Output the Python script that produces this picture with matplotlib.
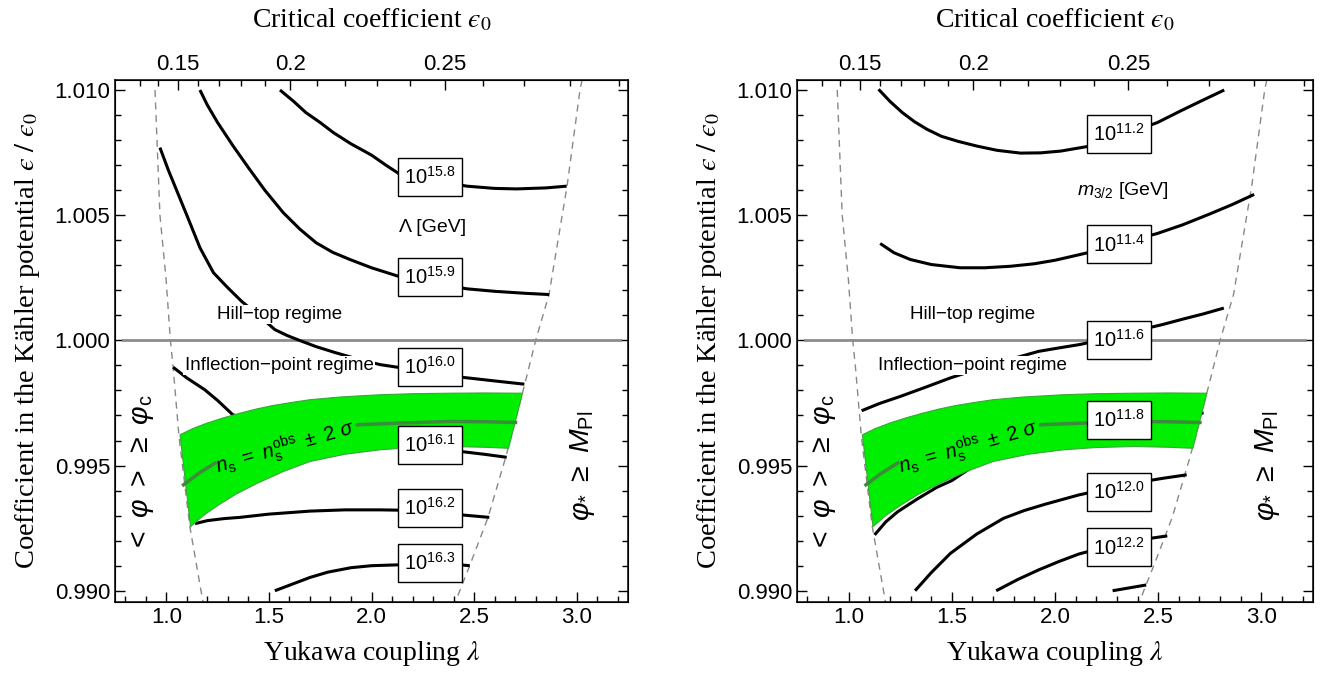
import numpy as np
import matplotlib
matplotlib.use("Agg")
import matplotlib.pyplot as plt
from matplotlib.patches import Rectangle
from matplotlib.transforms import ScaledTranslation

plt.rcParams['font.family'] = ['Liberation Sans', 'DejaVu Sans']
plt.rcParams['mathtext.fontset'] = 'custom'
plt.rcParams['mathtext.rm'] = 'Liberation Sans'
plt.rcParams['mathtext.it'] = 'Liberation Sans:italic'
plt.rcParams['mathtext.sf'] = 'Liberation Sans'

# ---- data (lambda, eps/eps0) ----
# boundaries (dashed)
left_lam = [0.945, 0.969, 0.999, 1.020, 1.033, 1.062, 1.115, 1.169, 1.179]
left_v = [1.0100, 1.0050, 1.00243, 1.0000, 0.99895, 0.99615, 0.99255, 0.9900, 0.98955]
right_lam = [3.026, 3.016, 2.953, 2.865, 2.80, 2.748, 2.655, 2.568, 2.48, 2.43, 2.41]
right_v = [1.0104, 1.0100, 1.00616, 1.00183, 1.0000, 0.99829, 0.99536, 0.99293, 0.99103, 0.9900, 0.98955]

# n_s band
band_top_lam = [1.067, 1.13, 1.20, 1.28, 1.358, 1.44, 1.52, 1.61, 1.70, 1.85, 2.043, 2.20, 2.385, 2.55, 2.736]
band_top_v = [0.99623, 0.99648, 0.99670, 0.99691, 0.99709, 0.99726, 0.99740, 0.99752, 0.99763,
              0.99774, 0.99783, 0.99787, 0.99789, 0.99790, 0.99789]
band_bot_lam = [1.118, 1.18, 1.25, 1.34, 1.443, 1.57, 1.70, 1.87, 2.043, 2.20, 2.385, 2.55, 2.668]
band_bot_v = [0.99256, 0.99300, 0.99340, 0.99386, 0.99429, 0.99476, 0.99516, 0.99545, 0.99563,
              0.99572, 0.99576, 0.99573, 0.99569]
ns_lam1 = [1.084, 1.16, 1.238]
ns_v1 = [0.99423, 0.99470, 0.99510]
ns_lam2 = [1.931, 2.15, 2.385, 2.55, 2.702]
ns_v2 = [0.99663, 0.99670, 0.99676, 0.99675, 0.99672]

# left panel: Lambda contours
lam_L = {
    '15.8': [1.554, 1.62, 1.68, 1.75, 1.814, 1.90, 2.00, 2.07, 2.139, 2.30,
             2.464, 2.60, 2.708, 2.85, 2.951],
    '15.9': [1.164, 1.20, 1.25, 1.326, 1.40, 1.48, 1.570, 1.65, 1.73, 1.81, 1.895, 2.00, 2.139,
             2.30, 2.464, 2.60, 2.75, 2.866],
    '16.0': [0.969, 1.01, 1.05, 1.10, 1.164, 1.23, 1.30, 1.367, 1.45, 1.529, 1.59, 1.649, 1.73,
             1.82, 1.93, 2.043, 2.27, 2.437, 2.60, 2.745],
    '16.1': [1.033, 1.10, 1.187, 1.25, 1.324, 1.55, 1.80, 2.05, 2.27, 2.437, 2.55, 2.659],
    '16.2': [1.14, 1.20, 1.28, 1.358, 1.50, 1.70, 1.87, 2.043, 2.27, 2.437, 2.574],
    '16.3': [1.529, 1.60, 1.70, 1.786, 1.90, 2.00, 2.111, 2.27, 2.437, 2.479],
}
v_L = {
    '15.8': [1.0100, 1.00955, 1.0091, 1.0087, 1.0083, 1.00785, 1.0074, 1.0070, 1.00663, 1.0064,
             1.00616, 1.00607, 1.00605, 1.00609, 1.00616],
    '15.9': [1.0100, 1.0094, 1.0087, 1.00776, 1.0069, 1.0060, 1.0051, 1.00445, 1.0039, 1.00352,
             1.00323, 1.0029, 1.00254, 1.0023, 1.00206, 1.00196, 1.00188, 1.00183],
    '16.0': [1.0077, 1.0068, 1.0060, 1.0050, 1.0037, 1.0027, 1.0021, 1.00156, 1.0010, 1.00043,
             1.00019, 1.0000, 0.99975, 0.99952, 0.99926, 0.99903, 0.99875, 0.99853, 0.99838,
             0.99825],
    '16.1': [0.99893, 0.99850, 0.99803, 0.99760, 0.99703, 0.99650, 0.99610, 0.99590, 0.99583,
             0.99556, 0.99545, 0.99533],
    '16.2': [0.99268, 0.99280, 0.99288, 0.99293, 0.99306, 0.99318, 0.99323, 0.99323, 0.99320,
             0.99303, 0.99293],
    '16.3': [0.9900, 0.99022, 0.99053, 0.99074, 0.99092, 0.99100, 0.99103, 0.99105, 0.99103,
             0.99100],
}
box_v_L = {'15.8': 1.00654, '15.9': 1.00254, '16.0': 0.99893,
           '16.1': 0.99583, '16.2': 0.99332, '16.3': 0.99112}

# right panel: m_3/2 contours
lam_R = {
    '11.2': [1.145, 1.20, 1.26, 1.32, 1.38, 1.45, 1.53, 1.622, 1.72, 1.833, 1.93, 2.027, 2.169,
             2.33, 2.496, 2.60, 2.70, 2.82],
    '11.4': [1.153, 1.22, 1.299, 1.40, 1.54, 1.66, 1.784, 1.90, 2.00, 2.169, 2.33, 2.496, 2.62,
             2.75, 2.86, 2.965],
    '11.6': [1.063, 1.15, 1.25, 1.37, 1.493, 1.70, 1.92, 2.02, 2.117, 2.27, 2.416, 2.52, 2.62,
             2.72, 2.818],
    '11.8': [1.126, 1.18, 1.237, 1.33, 1.425, 1.50, 1.70, 2.00, 2.27, 2.60, 2.72],
    '12.0': [1.322, 1.40, 1.493, 1.62, 1.75, 1.85, 1.95, 2.117, 2.27, 2.425, 2.53, 2.638],
    '12.2': [1.715, 1.82, 1.92, 2.02, 2.117, 2.27, 2.425, 2.544],
    '12.4': [2.279, 2.442],
}
v_R = {
    '11.2': [1.01003, 1.00955, 1.00910, 1.00873, 1.00843, 1.00815, 1.00795, 1.00776, 1.00759,
             1.00748, 1.00749, 1.00756, 1.00776, 1.0082, 1.0087, 1.00913, 1.00953, 1.0100],
    '11.4': [1.00387, 1.00350, 1.00323, 1.00303, 1.00290, 1.00290, 1.00296, 1.00306, 1.00320,
             1.00352, 1.0039, 1.00427, 1.00462, 1.00505, 1.00543, 1.00583],
    '11.6': [0.99719, 0.99748, 0.99776, 0.99812, 0.99850, 0.99905, 0.99956, 0.99970, 0.99983,
             1.0001, 1.00043, 1.00063, 1.00085, 1.00106, 1.00129],
    '11.8': [0.99223, 0.99275, 0.99315, 0.99365, 0.99412, 0.99440, 0.9955, 0.9963, 0.99675,
             0.9970, 0.9971],
    '12.0': [0.9900, 0.99072, 0.99149, 0.99226, 0.99289, 0.99320, 0.99345, 0.99383, 0.9941,
             0.99436, 0.99450, 0.99463],
    '12.2': [0.9900, 0.99045, 0.99083, 0.99117, 0.99147, 0.9918, 0.99205, 0.99219],
    '12.4': [0.9900, 0.99023],
}
box_v_R = {'11.2': 1.00823, '11.4': 1.00383, '11.6': 1.00003,
           '11.8': 0.99681, '12.0': 0.99393, '12.2': 0.99173}

# top axis: epsilon_0 ticks at lambda positions
eps0_ticks = [0.13, 0.14, 0.15, 0.16, 0.17, 0.18, 0.19, 0.20, 0.21, 0.22,
              0.23, 0.24, 0.25, 0.26, 0.27, 0.28, 0.29]
eps0_lam = [0.870, 0.960, 1.055, 1.153, 1.256, 1.366, 1.482, 1.604, 1.733, 1.870,
            2.026, 2.188, 2.356, 2.543, 2.744, 2.966, 3.205]
eps0_major = {0.15: '0.15', 0.20: '0.2', 0.25: '0.25'}

x_ticks = [1.0, 1.5, 2.0, 2.5, 3.0]
y_ticks = [0.990, 0.995, 1.000, 1.005, 1.010]

serif = 'Liberation Serif'


def setup_axes(ax, regime_lam):
    ax.set_xlim(0.75, 3.25)
    ax.set_ylim(0.98955, 1.0104)
    ax.set_xticks(x_ticks)
    ax.set_xticklabels(['%.1f' % t for t in x_ticks])
    ax.set_xticks(np.arange(0.8, 3.25, 0.1), minor=True)
    ax.set_yticks(y_ticks)
    ax.set_yticklabels(['%.3f' % t for t in y_ticks])
    ax.set_yticks(np.arange(0.990, 1.0104, 0.001), minor=True)
    ax.tick_params(which='both', direction='in', top=False, right=True, labelsize=16, width=1)
    ax.tick_params(which='major', length=7)
    ax.tick_params(which='minor', length=4)
    for s in ax.spines.values():
        s.set_linewidth(1.1)
    ax.set_xlabel(r'Yukawa coupling $\lambda$', fontsize=20, family=serif,
                  math_fontfamily='stix', labelpad=8)
    ax.set_ylabel('Coefficient in the Kähler potential $\u03f5\\ /\\ \u03f5_0$',
                  fontsize=20.5, family=serif, math_fontfamily='stix', labelpad=9)

    top = ax.twiny()
    top.set_xlim(ax.get_xlim())
    maj = [eps0_lam[eps0_ticks.index(e)] for e in eps0_major]
    top.set_xticks(maj)
    top.set_xticklabels(list(eps0_major.values()))
    top.set_xticks(eps0_lam, minor=True)
    top.tick_params(which='both', direction='in', labelsize=16, width=1)
    top.tick_params(which='major', length=7)
    top.tick_params(which='minor', length=4)
    top.set_xlabel('Critical coefficient $\u03f5_0$', fontsize=20, family=serif,
                   math_fontfamily='stix', labelpad=19)

    # boundaries and regime line
    ax.plot(left_lam, left_v, color='#888888', lw=1.0, dashes=(5, 4), zorder=2)
    ax.plot(right_lam, right_v, color='#888888', lw=1.0, dashes=(5, 4), zorder=2)
    ax.axhline(1.0, xmin=0.015, xmax=0.985, color='#8c8c8c', lw=2, zorder=2)

    # n_s band
    poly_x = band_top_lam + band_bot_lam[::-1]
    poly_y = band_top_v + band_bot_v[::-1]
    ax.fill(poly_x, poly_y, facecolor='#00ee00', edgecolor='#3aa63a', lw=0.8, zorder=4)
    ax.plot(ns_lam1, ns_v1, color='#3c8c3c', lw=2.5, zorder=5)
    ax.plot(ns_lam2, ns_v2, color='#3c8c3c', lw=2.5, zorder=5)
    ax.text(1.58, 0.99572, r'$n_{\rm s}\ =\ n_{\rm s}^{\rm obs}\ \pm\ 2\ \sigma$', fontsize=14.5,
            rotation=16, ha='center', va='center', zorder=6)

    wb = dict(facecolor='white', edgecolor='none', pad=1)
    ax.text(regime_lam, 1.00104, 'Hill\u2212top regime', fontsize=13.5, ha='center',
            va='center', bbox=wb, zorder=6)
    ax.text(regime_lam, 0.99899, 'Inflection\u2212point regime', fontsize=13.5, ha='center',
            va='center', bbox=wb, zorder=6)
    ax.text(0.885, 0.9947, r'$<\ \varphi\ >\ \geq\ \varphi_{\rm c}$', fontsize=20.5,
            rotation=90, ha='center', va='center')
    ax.text(3.03, 0.9950, r'$\varphi_{*}\ \geq\ M_{\rm Pl}$', fontsize=20.5, rotation=90,
            ha='center', va='center')


def draw_contours(ax, fig, lams, vals, boxes, box_lam):
    for key in lams:
        ax.plot(lams[key], vals[key], color='black', lw=2.2, zorder=3,
                solid_capstyle='butt')
    for key, v in boxes.items():
        tr = fig.dpi_scale_trans + ScaledTranslation(box_lam, v, ax.transData)
        ax.add_patch(Rectangle((-0.32, -0.19), 0.64, 0.38, transform=tr, facecolor='white',
                               edgecolor='black', lw=1, zorder=7, clip_on=False))
        ax.text(box_lam, v, r'$10^{%s}$' % key, fontsize=14.5, ha='center', va='center',
                zorder=8)


fig = plt.figure(figsize=(13.44, 6.8), dpi=100)
axL = fig.add_axes([115 / 1344, 78 / 680, 513 / 1344, 522 / 680])
axR = fig.add_axes([797 / 1344, 78 / 680, 516 / 1344, 522 / 680])

setup_axes(axL, 1.55)
draw_contours(axL, fig, lam_L, v_L, box_v_L, 2.285)
axL.text(2.30, 1.0045, '\u039b [GeV]', fontsize=14, ha='center', va='center')

setup_axes(axR, 1.60)
draw_contours(axR, fig, lam_R, v_R, box_v_R, 2.31)
axR.text(2.328, 1.00597, r'$m_{3/2}$ [GeV]', fontsize=14, ha='center', va='center')

fig.savefig('out.png', dpi=100)
